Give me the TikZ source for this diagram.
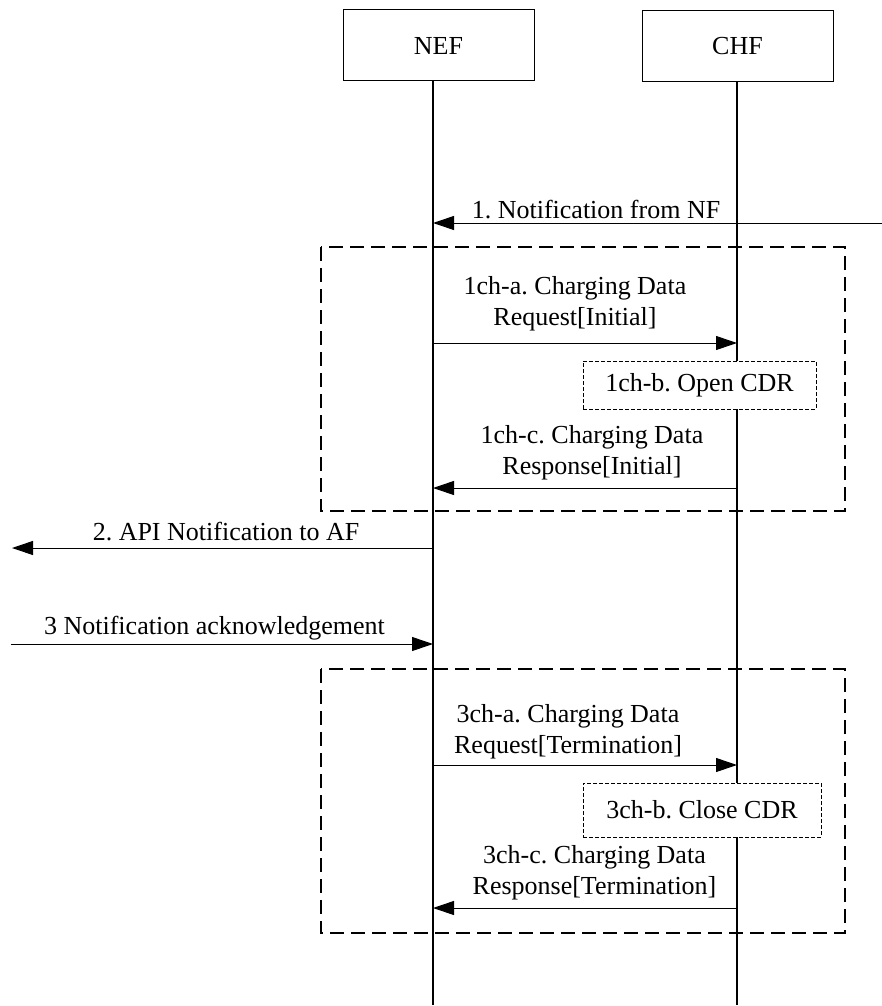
\documentclass[tikz,border=0pt]{standalone}
\usepackage{fontspec}
\setmainfont{Liberation Serif}
\usetikzlibrary{arrows.meta}
\frenchspacing

\begin{document}
\begin{tikzpicture}[
            x=1pt, y=-1pt,
            every node/.style={align=center, font=\fontsize{26}{31}\selectfont},
            entity/.style={draw, line width=1pt, minimum width=191pt, minimum height=71pt},
            lifeline/.style={line width=1.3pt},
            msg/.style={-{Triangle[length=21pt,width=14pt]}, line width=1pt},
            group/.style={draw, line width=1.4pt, dash pattern=on 14pt off 7pt},
            action/.style={draw, fill=white, line width=0.7pt, dash pattern=on 4pt off 2pt}
        ]
            \useasboundingbox (0,0) rectangle (882,1006);

            % entities and lifelines
            \node[entity] (nef) at (438.5,45.5) {NEF};
            \node[entity] (chf) at (737.5,46) {CHF};
            \coordinate (nefEnd) at (433,1005);
            \coordinate (chfEnd) at (737,1005);

            % charging groups
            \draw[group] (321,247) rectangle (845,511);
            \draw[group] (321,669) rectangle (845,933);

            \draw[lifeline] (nefEnd |- nef.south) -- (nefEnd);
            \draw[lifeline] (chfEnd |- chf.south) -- (chfEnd);

            % 1
            \coordinate (nf) at (882,223);
            \draw[msg] (nf) -- (nf -| nefEnd);
            \node (l1) at (596,210) {1. Notification from NF};

            % 1ch
            \coordinate (r1a) at (433,343);
            \draw[msg] (r1a) -- (r1a -| chfEnd);
            \node (l1a) at (575,304) {1ch-a. Charging Data\\Request[Initial]};
            \node[action, minimum width=233pt, minimum height=48pt] (openCdr) at (699.5,385) {1ch-b. Open CDR};
            \coordinate (r1c) at (737,488);
            \draw[msg] (r1c) -- (r1c -| nefEnd);
            \node (l1c) at (592,453) {1ch-c. Charging Data\\Response[Initial]};

            % 2
            \coordinate (af) at (12,548);
            \draw[msg] (af -| nefEnd) -- (af);
            \node (l2) at (226,532) {2. API Notification to AF};

            % 3
            \coordinate (ack) at (11,644);
            \draw[msg] (ack) -- (ack -| nefEnd);
            \node (l3) at (214.5,628) {3 Notification acknowledgement};

            % 3ch
            \coordinate (r3a) at (433,765);
            \draw[msg] (r3a) -- (r3a -| chfEnd);
            \node (l3a) at (568,732) {3ch-a. Charging Data\\Request[Termination]};
            \node[action, minimum width=238pt, minimum height=54pt] (closeCdr) at (702,810) {3ch-b. Close CDR};
            \coordinate (r3c) at (737,908);
            \draw[msg] (r3c) -- (r3c -| nefEnd);
            \node (l3c) at (594.5,873) {3ch-c. Charging Data\\Response[Termination]};
        \end{tikzpicture}
\end{document}
